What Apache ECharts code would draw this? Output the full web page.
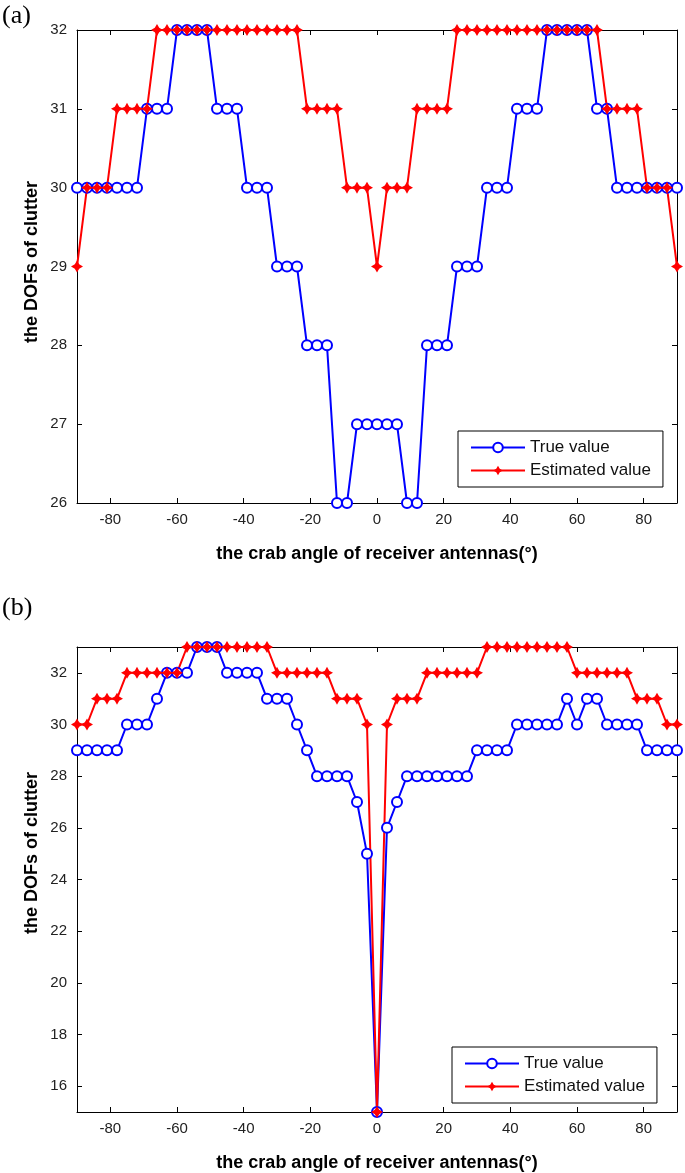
<!DOCTYPE html>
<html>
<head>
<meta charset="utf-8">
<script src="https://cdn.jsdelivr.net/npm/echarts@6/dist/echarts.min.js"></script>
<style>
  html, body { margin: 0; padding: 0; background: #fff; }
  #chart { width: 685px; height: 1173px; }
</style>
</head>
<body>
<div id="chart"></div>
<script>
// crab angle (deg), same sampling for both panels
const angles = [-90,-87,-84,-81,-78,-75,-72,-69,-66,-63,-60,-57,-54,-51,-48,-45,-42,-39,-36,-33,-30,-27,-24,-21,-18,-15,-12,-9,-6,-3,
  0,3,6,9,12,15,18,21,24,27,30,33,36,39,42,45,48,51,54,57,60,63,66,69,72,75,78,81,84,87,90];

// panel (a)
const trueA = [30,30,30,30,30,30,30,31,31,31,32,32,32,32,31,31,31,30,30,30,29,29,29,28,28,28,26,26,27,27,
  27,27,27,26,26,28,28,28,29,29,29,30,30,30,31,31,31,32,32,32,32,32,31,31,30,30,30,30,30,30,30];
const estA = [29,30,30,30,31,31,31,31,32,32,32,32,32,32,32,32,32,32,32,32,32,32,32,31,31,31,31,30,30,30,
  29,30,30,30,31,31,31,31,32,32,32,32,32,32,32,32,32,32,32,32,32,32,32,31,31,31,31,30,30,30,29];

// panel (b)
const trueB = [29,29,29,29,29,30,30,30,31,32,32,32,33,33,33,32,32,32,32,31,31,31,30,29,28,28,28,28,27,25,
  15,26,27,28,28,28,28,28,28,28,29,29,29,29,30,30,30,30,30,31,30,31,31,30,30,30,30,29,29,29,29];
const estB = [30,30,31,31,31,32,32,32,32,32,32,33,33,33,33,33,33,33,33,33,32,32,32,32,32,32,31,31,31,30,
  15,30,31,31,31,32,32,32,32,32,32,33,33,33,33,33,33,33,33,33,32,32,32,32,32,32,31,31,31,30,30];

const xTicks = [-80,-60,-40,-20,0,20,40,60,80];
const yTicksA = [26,27,28,29,30,31,32];
const yTicksB = [16,18,20,22,24,26,28,30,32];

const pairs = (ys) => angles.map((x, i) => [x, ys[i]]);

// chunky 4-point star, like the matlab '*' marker at low resolution
const starPath = 'path://M0,-6 L2.2,-2.2 L6,0 L2.2,2.2 L0,6 L-2.2,2.2 L-6,0 L-2.2,-2.2 Z';
const FONT = 'Liberation Sans';

let chart = echarts.init(document.getElementById('chart'));

function xAxes(grid, ticks) {
  return [
    {
      type: 'value', gridIndex: grid, min: -90, max: 90,
      name: 'the crab angle of receiver antennas(°)',
      nameLocation: 'middle', nameGap: 42,
      nameTextStyle: { fontFamily: FONT, fontSize: 18, fontWeight: 'bold', color: '#000' },
      axisLine: { onZero: false, lineStyle: { color: '#000', width: 1 } },
      axisTick: { inside: true, length: 5, customValues: ticks, lineStyle: { color: '#000' } },
      axisLabel: { customValues: ticks, margin: 9, fontFamily: FONT, fontSize: 15, color: '#222' },
      splitLine: { show: false }
    },
    {
      type: 'value', gridIndex: grid, min: -90, max: 90, position: 'top',
      axisLine: { onZero: false, lineStyle: { color: '#000', width: 1 } },
      axisTick: { inside: true, length: 5, customValues: ticks, lineStyle: { color: '#000' } },
      axisLabel: { show: false },
      splitLine: { show: false }
    }
  ];
}

function yAxes(grid, min, max, ticks) {
  return [
    {
      type: 'value', gridIndex: grid, min: min, max: max, position: 'left',
      axisLine: { show: true, onZero: false, lineStyle: { color: '#000', width: 1 } },
      axisTick: { show: true, inside: true, length: 5, customValues: ticks, lineStyle: { color: '#000' } },
      axisLabel: { customValues: ticks, margin: 10, fontFamily: FONT, fontSize: 15, color: '#222' },
      splitLine: { show: false }
    },
    {
      type: 'value', gridIndex: grid, min: min, max: max, position: 'right',
      axisLine: { show: true, onZero: false, lineStyle: { color: '#000', width: 1 } },
      axisTick: { show: true, inside: true, length: 5, customValues: ticks, lineStyle: { color: '#000' } },
      axisLabel: { show: false },
      splitLine: { show: false }
    }
  ];
}

function trueSeries(xi, yi, data) {
  return {
    name: 'True value', type: 'line', xAxisIndex: xi, yAxisIndex: yi, data: data,
    symbol: 'emptyCircle', symbolSize: 10, showAllSymbol: true,
    lineStyle: { color: '#0000ff', width: 2 },
    itemStyle: { color: '#0000ff', borderWidth: 1.8 },
    animation: false
  };
}

function estSeries(xi, yi, data) {
  return {
    name: 'Estimated value', type: 'line', xAxisIndex: xi, yAxisIndex: yi, data: data,
    symbol: starPath, symbolSize: 12, showAllSymbol: true,
    lineStyle: { color: '#ff0000', width: 2 },
    itemStyle: { color: '#ff0000' },
    animation: false
  };
}

function legendAt(left, top) {
  return {
    orient: 'vertical', left: left, top: top,
    data: ['True value', 'Estimated value'],
    itemWidth: 54, itemHeight: 12, itemGap: 6,
    padding: [8, 12, 8, 12],
    borderColor: '#000', borderWidth: 1, backgroundColor: '#fff',
    selectedMode: false,
    textStyle: { fontFamily: FONT, fontSize: 17, color: '#111' }
  };
}

var option = {
  backgroundColor: '#fff',
  animation: false,
  grid: [
    { left: 77, top: 30, width: 600, height: 473 },
    { left: 77, top: 647, width: 600, height: 474 }
  ],
  xAxis: [...xAxes(0, xTicks), ...xAxes(1, xTicks)],
  yAxis: [...yAxes(0, 26, 32, yTicksA), ...yAxes(1, 15, 33, yTicksB)],
  legend: [legendAt(458, 431), legendAt(452, 1047)],
  series: [
    trueSeries(0, 0, pairs(trueA)),
    estSeries(0, 0, pairs(estA)),
    trueSeries(2, 2, pairs(trueB)),
    estSeries(2, 2, pairs(estB))
  ],
  graphic: [
    { type: 'text', left: 2, top: 3, style: { text: '(a)', font: '26px "Liberation Serif"', fill: '#000' } },
    { type: 'text', left: 2, top: 595, style: { text: '(b)', font: '26px "Liberation Serif"', fill: '#000' } },
    { type: 'text', x: 32, y: 262, rotation: Math.PI / 2,
      style: { text: 'the DOFs of clutter', font: 'bold 18px "Liberation Sans"', fill: '#000', align: 'center', verticalAlign: 'middle' } },
    { type: 'text', x: 32, y: 853, rotation: Math.PI / 2,
      style: { text: 'the DOFs of clutter', font: 'bold 18px "Liberation Sans"', fill: '#000', align: 'center', verticalAlign: 'middle' } }
  ]
};

chart.setOption(option);
window.addEventListener('resize', () => { chart.resize(); });
</script>
</body>
</html>
